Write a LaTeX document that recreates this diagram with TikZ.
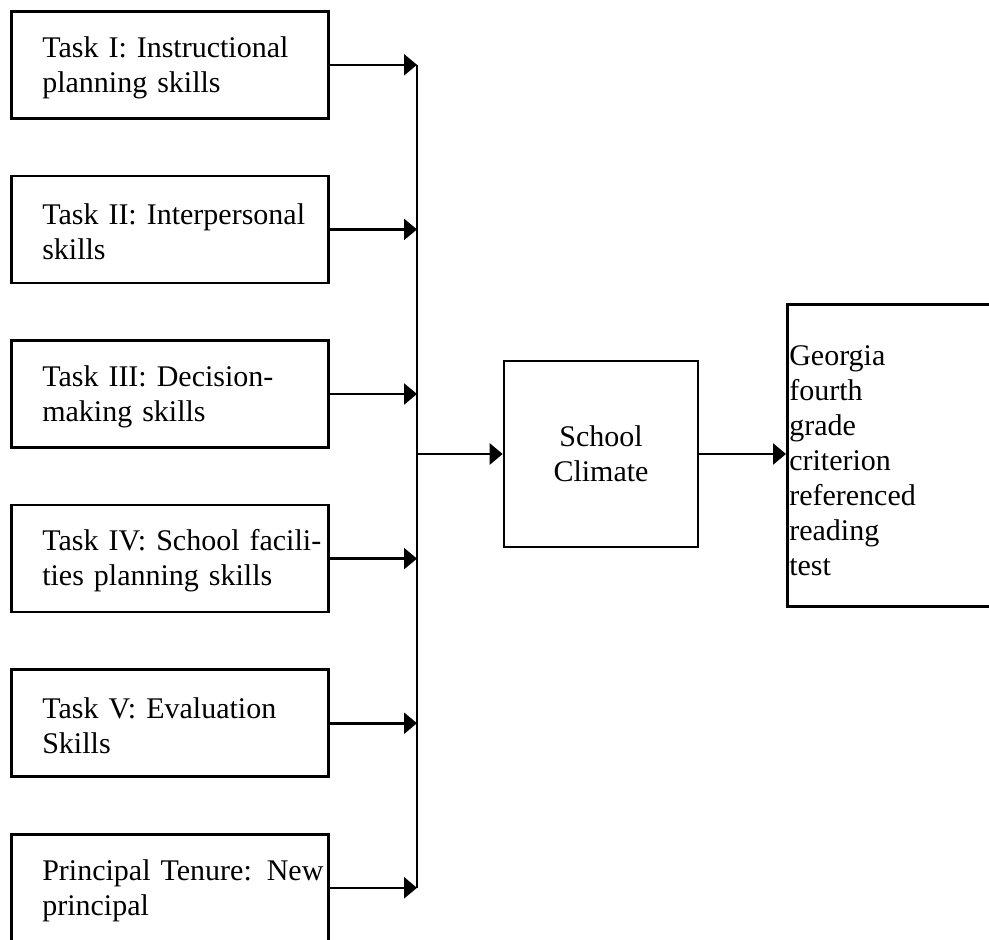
\documentclass[tikz,border=0pt]{standalone}
\usepackage{fontspec}
\setmainfont{Liberation Serif}
\usetikzlibrary{arrows.meta, positioning, calc}

\begin{document}
\begin{tikzpicture}[x=0.5pt, y=-0.5pt, >={Triangle[length=6.5pt, width=10.5pt]}, line width=1.3pt, node distance=27.5pt, font=\fontsize{15}{17.5}\selectfont]
\useasboundingbox (0,0) rectangle (989,939);
\clip (0,0) rectangle (989,939);

\begin{scope}[minimum width=158.5pt, minimum height=53.5pt, inner xsep=1pt, text width=156.5pt, text height=13pt, align=left, execute at begin node={\leftskip=14.5pt}]
    \node[draw, anchor=north west] (task1) at (10,10) {Task I: Instructional\\planning skills};
    \node[draw, below = of task1] (task2) {Task II: Interpersonal\\skills};
    \node[draw, below = of task2] (task3) {Task III: Decision-\\making skills};
    \node[draw, below = of task3] (task4) {Task IV: School facili-\\ties planning skills};
    \node[draw, below = of task4] (task5) {Task V: Evaluation\\Skills};
    \node[draw, below = of task5] (tenure) {Principal Tenure: New\\principal};
\end{scope}

\coordinate (bus) at (417,0);

\node[draw, minimum width=97pt, minimum height=93pt, align=center] (climate) at (601,454) {School\\Climate};
\node[draw, anchor=north west, minimum width=130pt, minimum height=151pt, inner xsep=1pt, text width=128pt, text height=15.5pt, align=left] (reading) at (786,303) {Georgia\\fourth\\grade\\criterion\\referenced\\reading\\test};

\draw (task1.east -| bus) -- (tenure.east -| bus);
\draw[->] (task1.east) -- (task1.east -| bus);
\draw[->] (task2.east) -- (task2.east -| bus);
\draw[->] (task3.east) -- (task3.east -| bus);
\draw[->] (task4.east) -- (task4.east -| bus);
\draw[->] (task5.east) -- (task5.east -| bus);
\draw[->] (tenure.east) -- (tenure.east -| bus);

\draw[->] (climate.west -| bus) -- (climate.west);
\draw[->] (climate.east) -- (climate.east -| reading.west);

\end{tikzpicture}
\end{document}
